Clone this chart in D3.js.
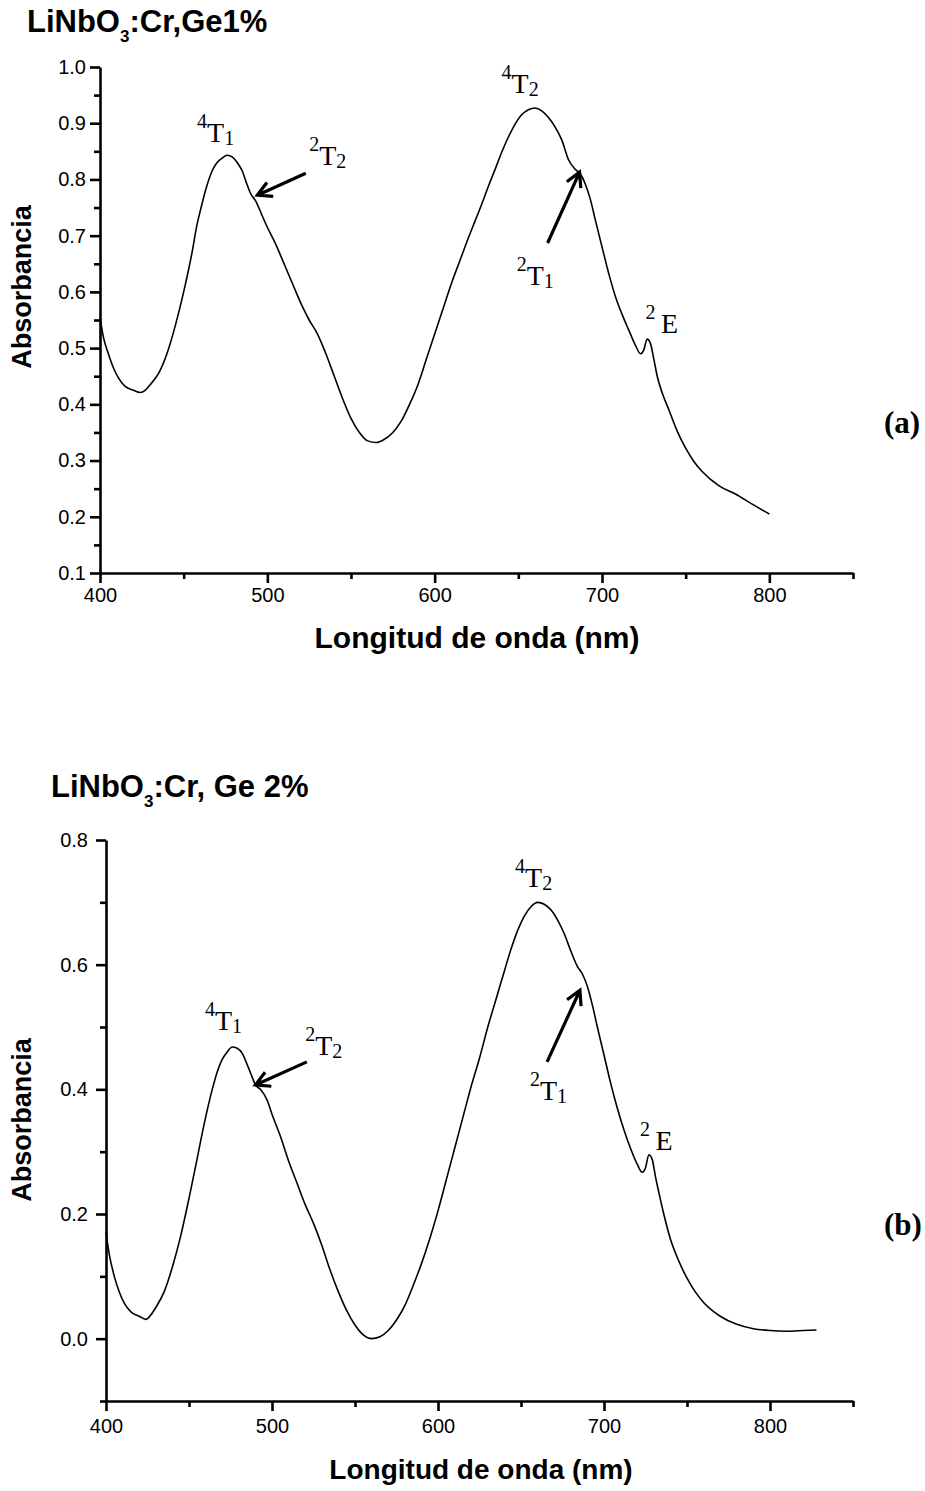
<!DOCTYPE html>
<html>
<head>
<meta charset="utf-8">
<script src="https://cdn.jsdelivr.net/npm/d3@7"></script>
<style>
  body { margin: 0; background: #fff; }
  svg { display: block; }
  .tick text { font-family: Arial, "Liberation Sans", sans-serif; fill: #000; }
  .ann { font-family: "Times New Roman", "Liberation Serif", serif; fill: #000; }
</style>
</head>
<body>
<div id="chart"></div>
<script>
// ---- data ----
const xMajor = [400, 500, 600, 700, 800];
const xMinor = [450, 550, 650, 750, 850];

// panel (a) LiNbO3:Cr,Ge1%
const nmA = [400, 402, 405, 408, 411, 415, 420, 424, 427, 430, 435, 440, 445, 450, 455, 458, 460, 464, 467, 470,
  473, 476, 479, 482, 485, 488, 490, 493, 497, 500, 505, 510, 515, 520, 525, 530, 535, 540, 545, 550,
  555, 560, 565, 570, 575, 580, 585, 590, 595, 600, 605, 610, 615, 620, 624, 628, 632, 636, 640, 644,
  648, 652, 656, 660, 664, 668, 672, 676, 680, 684, 687, 690, 693, 696, 700, 704, 708, 712, 716, 720,
  723, 725, 727, 729, 731, 733, 736, 740, 745, 750, 755, 760, 770, 780, 790, 800];
const absA = [0.555, 0.52, 0.49, 0.465, 0.447, 0.432, 0.425, 0.421, 0.425, 0.435, 0.455, 0.49, 0.54, 0.60, 0.67, 0.72, 0.745, 0.79, 0.815, 0.83,
  0.838, 0.843, 0.84, 0.83, 0.815, 0.79, 0.775, 0.762, 0.735, 0.715, 0.685, 0.65, 0.615, 0.58, 0.55, 0.525, 0.49, 0.45, 0.41, 0.375,
  0.35, 0.335, 0.332, 0.338, 0.35, 0.37, 0.40, 0.435, 0.48, 0.525, 0.57, 0.615, 0.655, 0.695, 0.725, 0.755, 0.787, 0.817, 0.848, 0.875,
  0.898, 0.915, 0.924, 0.927, 0.922, 0.91, 0.893, 0.87, 0.835, 0.818, 0.81, 0.792, 0.765, 0.728, 0.68, 0.633, 0.592, 0.56, 0.532, 0.505,
  0.49, 0.497, 0.516, 0.508, 0.48, 0.45, 0.42, 0.39, 0.352, 0.322, 0.298, 0.28, 0.255, 0.24, 0.222, 0.205];
const yMajorA = [0.1, 0.2, 0.3, 0.4, 0.5, 0.6, 0.7, 0.8, 0.9, 1.0];
const yMinorA = [0.15, 0.25, 0.35, 0.45, 0.55, 0.65, 0.75, 0.85, 0.95];

// panel (b) LiNbO3:Cr, Ge 2%
const nmB = [400, 402, 405, 408, 411, 415, 420, 424, 427, 430, 435, 440, 445, 450, 455, 458, 460, 464, 467, 470,
  473, 476, 479, 482, 485, 488, 490, 493, 497, 500, 505, 510, 515, 520, 525, 530, 535, 540, 545, 550,
  555, 560, 565, 570, 575, 580, 585, 590, 595, 600, 605, 610, 615, 620, 625, 630, 635, 640, 644, 648,
  652, 656, 660, 664, 668, 672, 676, 680, 684, 687, 690, 693, 696, 700, 704, 708, 712, 716, 720, 723,
  725, 727, 729, 731, 733, 736, 740, 745, 750, 755, 760, 770, 780, 790, 800, 810, 820, 828];
const absB = [0.17, 0.135, 0.1, 0.075, 0.057, 0.043, 0.036, 0.031, 0.038, 0.05, 0.075, 0.115, 0.165, 0.225, 0.29, 0.33, 0.355, 0.40, 0.428, 0.448,
  0.46, 0.468, 0.466, 0.458, 0.44, 0.42, 0.407, 0.4, 0.383, 0.36, 0.325, 0.285, 0.25, 0.215, 0.185, 0.15, 0.11, 0.075, 0.045, 0.022,
  0.006, 0.0, 0.003, 0.013, 0.03, 0.053, 0.085, 0.12, 0.16, 0.205, 0.255, 0.305, 0.355, 0.405, 0.45, 0.5, 0.545, 0.59, 0.625, 0.655,
  0.678, 0.693, 0.700, 0.697, 0.688, 0.672, 0.65, 0.622, 0.597, 0.585, 0.565, 0.535, 0.50, 0.455, 0.41, 0.37, 0.335, 0.305, 0.28, 0.267,
  0.274, 0.295, 0.288, 0.26, 0.235, 0.2, 0.16, 0.125, 0.097, 0.075, 0.058, 0.036, 0.023, 0.016, 0.013, 0.012, 0.013, 0.014];
const yMajorB = [0.0, 0.2, 0.4, 0.6, 0.8];
const yMinorB = [-0.1, 0.1, 0.3, 0.5, 0.7];

// annotation labels: [superscript, main, subscript, nm, absorbance]
const labelsA = [["4", "T", "1", 458, 0.867], ["2", "T", "2", 525, 0.826], ["4", "T", "2", 640, 0.954],
  ["2", "T", "1", 649, 0.612], ["2", "\u2009E", "", 726, 0.527]];
const arrowsA = [[523, 0.811, 494, 0.772], [667.5, 0.687, 686.6, 0.813]];
const labelsB = [["4", "T", "1", 459.6, 0.495], ["2", "T", "2", 520, 0.455], ["4", "T", "2", 646.4, 0.725],
  ["2", "T", "1", 655.4, 0.383], ["2", "\u2009E", "", 721.7, 0.303]];
const arrowsB = [[521, 0.444, 490, 0.407], [665.7, 0.444, 685.5, 0.559]];

const W = 925, H = 1491;
const svg = d3.select("#chart").append("svg").attr("width", W).attr("height", H);

function panel(cfg) {
  const x = d3.scaleLinear().domain([400, 850]).range([cfg.left, 853]);
  const y = d3.scaleLinear().domain(cfg.yDomain).range([cfg.bottom, cfg.top]);
  const g = svg.append("g");

  // minor ticks
  g.append("g").attr("transform", "translate(0," + cfg.bottom + ")")
    .call(d3.axisBottom(x).tickValues(xMinor).tickSize(6).tickSizeOuter(0).tickFormat(""))
    .call(s => s.select(".domain").remove());
  g.append("g").attr("transform", "translate(" + cfg.left + ",0)")
    .call(d3.axisLeft(y).tickValues(cfg.yMinor).tickSize(6).tickSizeOuter(0).tickFormat(""))
    .call(s => s.select(".domain").remove());

  // major axes
  const xa = g.append("g").attr("transform", "translate(0," + cfg.bottom + ")")
    .call(d3.axisBottom(x).tickValues(xMajor).tickSize(10).tickSizeOuter(0).tickPadding(cfg.xPad));
  xa.selectAll("text").style("font-size", "20px");
  const ya = g.append("g").attr("transform", "translate(" + cfg.left + ",0)")
    .call(d3.axisLeft(y).tickValues(cfg.yMajor).tickSize(10).tickSizeOuter(0).tickPadding(cfg.yPad)
      .tickFormat(d3.format(".1f")));
  ya.selectAll("text").style("font-size", "20px");
  g.selectAll(".domain, .tick line").attr("stroke", "#000").attr("stroke-width", 2.6);

  // curve
  const pts = cfg.nm.map((d, i) => [d, cfg.abs[i]]);
  g.append("path").datum(pts)
    .attr("fill", "none").attr("stroke", "#000").attr("stroke-width", 1.6)
    .attr("stroke-linejoin", "round")
    .attr("d", d3.line().x(d => x(d[0])).y(d => y(d[1])).curve(d3.curveMonotoneX));

  // titles
  const t = g.append("text").attr("x", cfg.titleX).attr("y", cfg.titleY)
    .style("font-family", "Arial, 'Liberation Sans', sans-serif").style("font-weight", "bold").style("font-size", "31px");
  t.append("tspan").text("LiNbO");
  t.append("tspan").text("3").style("font-size", "17px").attr("dy", 10);
  t.append("tspan").text(cfg.titleRest).attr("dy", -10);

  g.append("text").attr("x", cfg.xTitleX).attr("y", cfg.xTitleY).attr("text-anchor", "middle")
    .style("font-family", "Arial, 'Liberation Sans', sans-serif").style("font-weight", "bold")
    .style("font-size", cfg.xTitleSize + "px").text("Longitud de onda (nm)");

  g.append("text").attr("transform", "translate(31," + cfg.yTitleY + ") rotate(-90)").attr("text-anchor", "middle")
    .style("font-family", "Arial, 'Liberation Sans', sans-serif").style("font-weight", "bold")
    .style("font-size", "27px").text("Absorbancia");

  g.append("text").attr("x", 884).attr("y", cfg.tagY)
    .style("font-family", "'Times New Roman', 'Liberation Serif', serif").style("font-weight", "bold")
    .style("font-size", "31px").text(cfg.tag);

  // term labels
  cfg.labels.forEach(l => {
    const tx = g.append("text").attr("class", "ann").attr("x", x(l[3])).attr("y", y(l[4]));
    tx.append("tspan").text(l[0]).style("font-size", "20px").attr("dy", -14);
    tx.append("tspan").text(l[1]).style("font-size", "28px").attr("dy", 14);
    if (l[2]) tx.append("tspan").text(l[2]).style("font-size", "20px").attr("dy", 3);
  });

  // arrows
  cfg.arrows.forEach(a => {
    const x0 = x(a[0]), y0 = y(a[1]), x1 = x(a[2]), y1 = y(a[3]);
    const ang = Math.atan2(y1 - y0, x1 - x0), hl = 16, ha = 0.5;
    const p = d3.path();
    p.moveTo(x0, y0); p.lineTo(x1, y1);
    p.moveTo(x1 - hl * Math.cos(ang - ha), y1 - hl * Math.sin(ang - ha));
    p.lineTo(x1, y1);
    p.lineTo(x1 - hl * Math.cos(ang + ha), y1 - hl * Math.sin(ang + ha));
    g.append("path").attr("d", p.toString()).attr("fill", "none")
      .attr("stroke", "#000").attr("stroke-width", 3.2).attr("stroke-linejoin", "miter");
  });
}

panel({
  left: 100, top: 67, bottom: 573, yDomain: [0.1, 1.0], yMajor: yMajorA, yMinor: yMinorA,
  nm: nmA, abs: absA, xPad: 5, yPad: 4, titleX: 27, titleY: 32, titleRest: ":Cr,Ge1%",
  xTitleX: 477, xTitleY: 648, xTitleSize: 30, yTitleY: 287, tag: "(a)", tagY: 433,
  labels: labelsA, arrows: arrowsA
});
panel({
  left: 106, top: 840, bottom: 1401, yDomain: [-0.1, 0.8], yMajor: yMajorB, yMinor: yMinorB,
  nm: nmB, abs: absB, xPad: 8, yPad: 8, titleX: 51, titleY: 797, titleRest: ":Cr, Ge 2%",
  xTitleX: 481, xTitleY: 1479, xTitleSize: 28, yTitleY: 1120, tag: "(b)", tagY: 1235,
  labels: labelsB, arrows: arrowsB
});
</script>
</body>
</html>
